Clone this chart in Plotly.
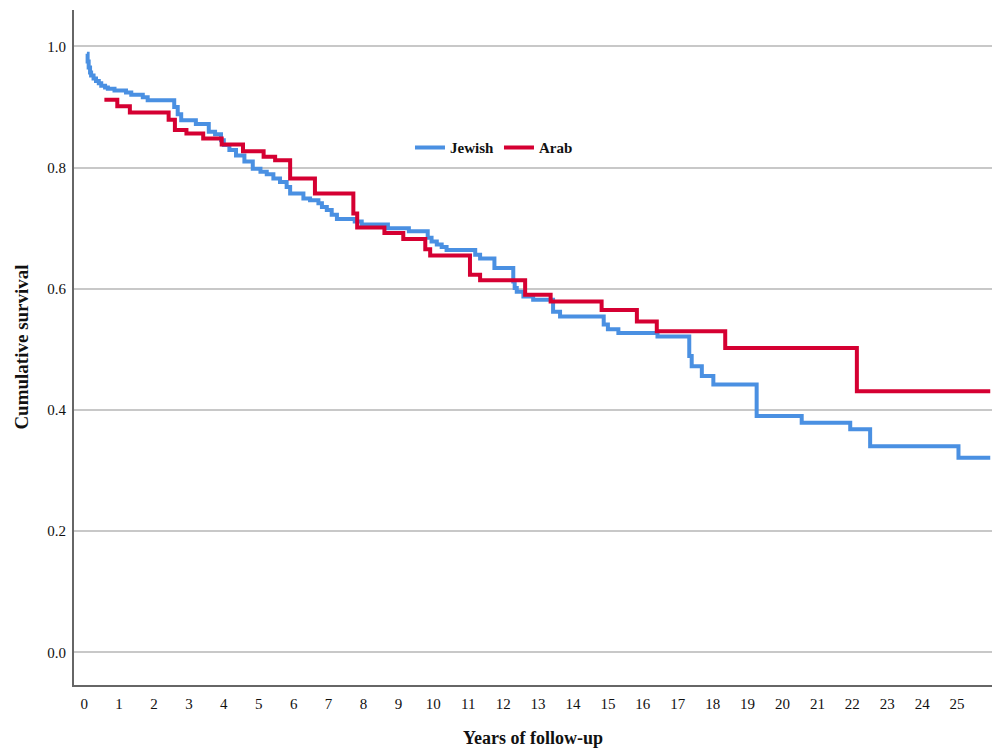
import plotly.graph_objects as go

# Kaplan-Meier step data (time in years, cumulative survival after event)
jewish_t = [0.08, 0.10, 0.13, 0.17, 0.20, 0.27, 0.34, 0.42, 0.49, 0.60, 0.68, 0.87, 1.20, 1.35, 1.68, 1.82,
            2.58, 2.68, 2.78, 3.20, 3.57, 3.75, 3.92, 4.00, 4.16, 4.35, 4.59, 4.83, 5.05, 5.23, 5.42, 5.61,
            5.80, 5.90, 6.28, 6.47, 6.71, 6.81, 6.95, 7.09, 7.24, 7.75, 7.95, 8.70, 9.30, 9.84, 9.95, 10.10,
            10.24, 10.38, 11.20, 11.34, 11.75, 12.29, 12.33, 12.39, 12.58, 12.86, 13.43, 13.63, 14.88, 15.00,
            15.30, 16.42, 17.33, 17.40, 17.69, 18.02, 19.26, 20.55, 21.94, 22.51, 25.04, 25.95]
jewish_s = [0.988, 0.975, 0.965, 0.957, 0.952, 0.947, 0.943, 0.939, 0.935, 0.932, 0.930, 0.927, 0.924, 0.920, 0.916, 0.911,
            0.900, 0.888, 0.878, 0.872, 0.859, 0.855, 0.845, 0.837, 0.829, 0.820, 0.810, 0.798, 0.793, 0.789, 0.782, 0.776,
            0.768, 0.757, 0.749, 0.746, 0.741, 0.735, 0.730, 0.722, 0.715, 0.711, 0.706, 0.700, 0.695, 0.684, 0.678, 0.673,
            0.669, 0.664, 0.656, 0.650, 0.634, 0.612, 0.601, 0.595, 0.587, 0.582, 0.562, 0.554, 0.541, 0.533,
            0.527, 0.521, 0.489, 0.472, 0.456, 0.442, 0.390, 0.379, 0.368, 0.340, 0.321, 0.321]

arab_t = [0.58, 0.95, 1.31, 2.42, 2.60, 2.93, 3.41, 3.94, 4.55, 5.14, 5.47, 5.90, 6.61, 7.71, 7.82, 8.60,
          9.14, 9.77, 9.91, 11.05, 11.34, 12.63, 13.36, 14.82, 15.83, 16.40, 18.36, 22.13, 25.95]
arab_s = [0.912, 0.901, 0.891, 0.879, 0.862, 0.856, 0.848, 0.838, 0.827, 0.818, 0.812, 0.782, 0.757, 0.724, 0.701, 0.692,
          0.682, 0.665, 0.655, 0.623, 0.614, 0.590, 0.579, 0.565, 0.546, 0.530, 0.502, 0.431, 0.431]

x_ticks = list(range(0, 26))
y_ticks = [0.0, 0.2, 0.4, 0.6, 0.8, 1.0]

font_family = "Liberation Serif, Times New Roman, serif"

fig = go.Figure()
fig.add_trace(go.Scatter(x=jewish_t, y=jewish_s, mode="lines", line_shape="hv",
                         line=dict(color="#4A90E2", width=4), name="Jewish"))
fig.add_trace(go.Scatter(x=arab_t, y=arab_s, mode="lines", line_shape="hv",
                         line=dict(color="#D50032", width=4), name="Arab"))

fig.update_layout(
    width=994, height=752,
    margin=dict(l=74, r=2, t=10, b=67, autoexpand=False),
    paper_bgcolor="white", plot_bgcolor="white",
    font=dict(family=font_family, color="#111", size=14),
    legend=dict(orientation="h", x=0.366, y=0.796, xanchor="left", yanchor="middle",
                font=dict(family=font_family, size=15, color="#111", weight="bold"),
                itemwidth=30, tracegroupgap=0, bgcolor="rgba(0,0,0,0)"),
    xaxis=dict(range=[-0.29, 26.0], tickvals=x_ticks, showgrid=False, zeroline=False,
               showline=True, linecolor="#666", linewidth=2, ticks="", automargin=False,
               ticklabelstandoff=4,
               tickfont=dict(family=font_family, size=15, color="#111")),
    yaxis=dict(range=[-0.054, 1.06], tickvals=y_ticks, tickformat=".1f", showgrid=True,
               gridcolor="#c8c8c8", gridwidth=2, zeroline=False, automargin=False,
               showline=True, linecolor="#666", linewidth=2, ticks="",
               ticklabelstandoff=3,
               tickfont=dict(family=font_family, size=15, color="#111")),
    showlegend=True,
    annotations=[
        dict(text="<b>Years of follow-up</b>", xref="paper", yref="paper", x=0.5, y=-0.061,
             xanchor="center", yanchor="top", showarrow=False,
             font=dict(family=font_family, size=18, color="#111")),
        dict(text="<b>Cumulative survival</b>", xref="paper", yref="paper", x=-0.044, y=0.5,
             xanchor="right", yanchor="middle", textangle=-90, showarrow=False,
             font=dict(family=font_family, size=19, color="#111")),
    ],
)

fig.write_html("out.html", config={"displayModeBar": False},
               post_script="document.body.style.margin='0';document.body.style.padding='0';"
                           "document.documentElement.style.overflow='hidden';")
